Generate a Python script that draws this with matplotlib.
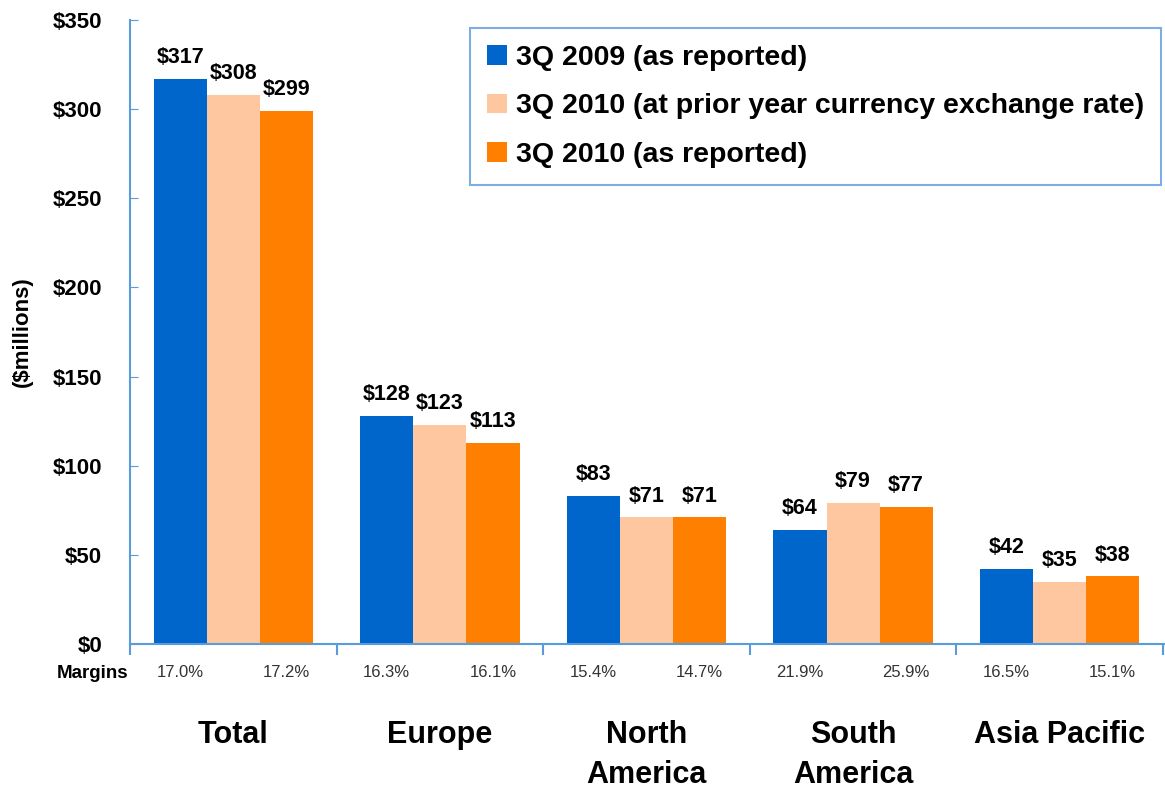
import numpy as np
import matplotlib.pyplot as plt
from matplotlib import transforms

plt.rcParams['font.family'] = ['Liberation Sans', 'DejaVu Sans']

# Operating income by region, $ millions
regions = ['Total', 'Europe', 'North\nAmerica', 'South\nAmerica', 'Asia Pacific']
q3_2009 = [317, 128, 83, 64, 42]
q3_2010_fx = [308, 123, 71, 79, 35]
q3_2010 = [299, 113, 71, 77, 38]
margins_2009 = ['17.0%', '16.3%', '15.4%', '21.9%', '16.5%']
margins_2010 = ['17.2%', '16.1%', '14.7%', '25.9%', '15.1%']

series_names = ['3Q 2009 (as reported)',
                '3Q 2010 (at prior year currency exchange rate)',
                '3Q 2010 (as reported)']
colors = ['#0066CC', '#FFC7A0', '#FF7F00']
axis_blue = '#5A9BDC'

fig = plt.figure(figsize=(11.65, 7.89), dpi=100)
ax = fig.add_axes([0.1116, 0.1838, 0.8884, 0.7909])

x = np.arange(len(regions))
w = 0.257
series = [q3_2009, q3_2010_fx, q3_2010]
for i, (vals, name, c) in enumerate(zip(series, series_names, colors)):
    pos = x + (i - 1) * w
    ax.bar(pos, vals, width=w, color=c, label=name, edgecolor='none')
    for p, v in zip(pos, vals):
        ax.text(p, v + 6, f'${v}', ha='center', va='bottom',
                fontsize=15.5, fontweight='bold')

ax.set_xlim(-0.5, 4.51)
ax.set_ylim(0, 350)
ax.set_yticks(range(0, 351, 50))
ax.set_yticklabels([f'${t}' for t in range(0, 351, 50)],
                   fontsize=16, fontweight='bold')
ax.tick_params(axis='y', direction='in', length=6, color=axis_blue, pad=20)

# group dividers below the axis line
ax.set_xticks(np.arange(-0.5, 4.6, 1.0))
ax.set_xticklabels([])
ax.tick_params(axis='x', direction='out', length=8, color=axis_blue, width=1.5)

for side in ['top', 'right']:
    ax.spines[side].set_visible(False)
for side in ['left', 'bottom']:
    ax.spines[side].set_color(axis_blue)
    ax.spines[side].set_linewidth(1.5)

ax.set_ylabel('($millions)', fontsize=16, fontweight='bold', labelpad=14)

# margins row and region names under the axis
trans = transforms.blended_transform_factory(ax.transData, fig.transFigure)
fig.text(0.110, 0.147, 'Margins', ha='right', va='center',
         fontsize=13.5, fontweight='bold')
for i in range(len(regions)):
    ax.text(x[i] - w, 0.148, margins_2009[i], transform=trans,
            ha='center', va='center', fontsize=12, color='#333333')
    ax.text(x[i] + w, 0.148, margins_2010[i], transform=trans,
            ha='center', va='center', fontsize=12, color='#333333')
    ax.text(x[i], 0.087, regions[i], transform=trans, ha='center', va='top',
            fontsize=22, fontweight='bold', linespacing=1.4)

leg = ax.legend(loc='upper right', bbox_to_anchor=(0.9965, 0.965),
                bbox_transform=fig.transFigure,
                prop={'weight': 'bold', 'size': 20.5},
                frameon=True, fancybox=False, handlelength=0.7,
                handleheight=0.7, handletextpad=0.3, labelspacing=0.8,
                borderpad=0.6, borderaxespad=0)
leg.get_frame().set_edgecolor(axis_blue)
leg.get_frame().set_linewidth(1.5)

fig.savefig('out.png', dpi=100)
